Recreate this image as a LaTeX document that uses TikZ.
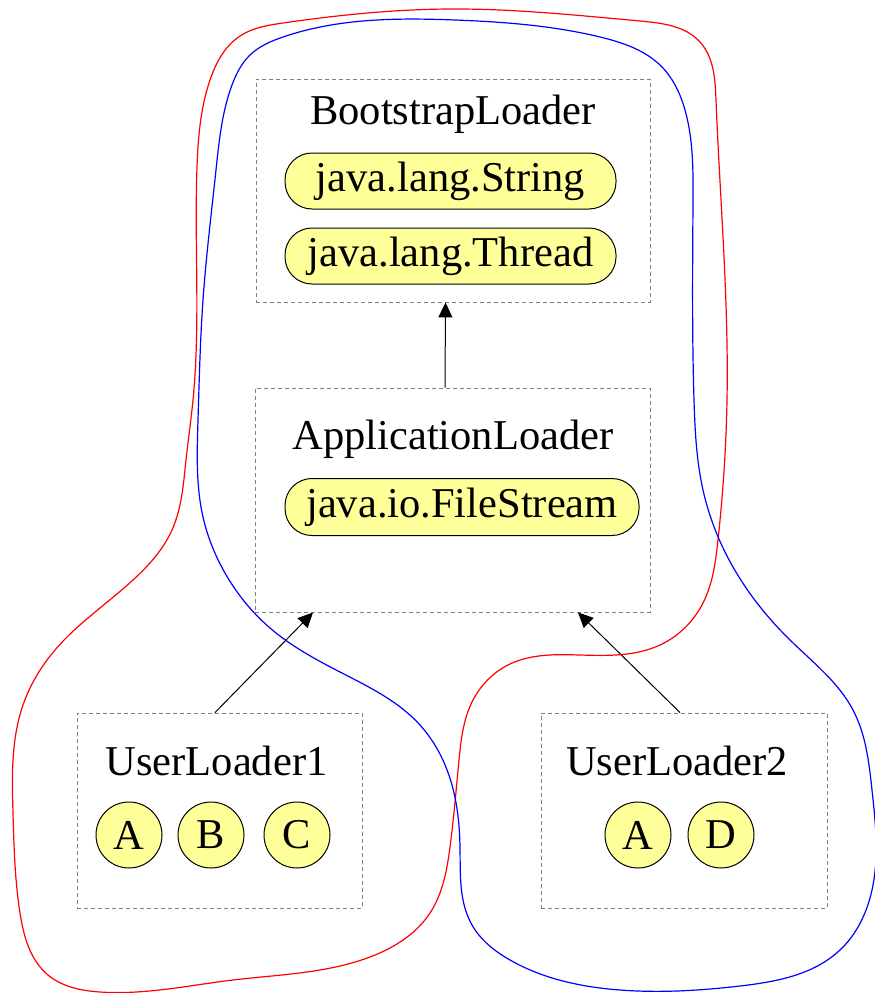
\documentclass[tikz,border=0pt]{standalone}
\usepackage{fontspec}
\setmainfont{Liberation Serif}
\usetikzlibrary{arrows.meta,hobby}
\definecolor{pillfill}{RGB}{255,255,153}
\definecolor{boxgray}{RGB}{128,128,128}
\begin{document}
\begin{tikzpicture}[x=1pt,y=-1pt,
  every node/.style={font=\fontsize{42.5}{50}\selectfont},
  dbox/.style={draw=boxgray, dash pattern=on 4pt off 3pt, line width=0.9pt, inner sep=0pt},
  pill/.style={draw=black, fill=pillfill, line width=1pt, rounded corners=27pt, inner sep=0pt, minimum height=56pt},
  ball/.style={circle, draw=black, fill=pillfill, line width=1pt, inner sep=0pt, minimum size=66pt},
  lbl/.style={anchor=base, inner sep=0pt},
  arr/.style={draw=black, line width=1pt, -{Triangle[length=15pt,width=14pt]}},
  hull/.style={line width=1.2pt, use Hobby shortcut, closed=true}
]
\useasboundingbox (0,0) rectangle (875,993);

% boxes
\node[dbox, minimum width=394pt, minimum height=223pt] (boot) at (453,190.5) {};
\node[lbl] (bootl) at (453,124) {BootstrapLoader};
\node[pill, minimum width=331pt] (str) at (450.5,181) {java.lang.String};
\node[pill, minimum width=331pt] (thr) at (450.5,256) {java.lang.Thread};

\node[dbox, minimum width=395pt, minimum height=224pt] (app) at (452.5,500) {};
\node[lbl] (appl) at (453,449) {ApplicationLoader};
\node[pill, minimum width=354pt, minimum height=57pt] (fs) at (462,507) {java.io.FileStream};

\node[dbox, minimum width=285pt, minimum height=195pt] (ul1) at (219.5,810.5) {};
\node[lbl] (ul1l) at (216.5,775) {UserLoader1};
\node[ball] (a1) at (129,835) {A};
\node[ball] (b1) at (211,835) {B};
\node[ball] (c1) at (297,835) {C};

\node[dbox, minimum width=286pt, minimum height=195pt] (ul2) at (684,810.5) {};
\node[lbl] (ul2l) at (677,775) {UserLoader2};
\node[ball] (a2) at (638,835) {A};
\node[ball] (d2) at (721,835) {D};

% arrows
\draw[arr] ([xshift=-7.5pt]app.north) -- ([xshift=-7.5pt]boot.south);
\draw[arr] ([xshift=-4.5pt]ul1.north) -- ([xshift=-139.5pt]app.south);
\draw[arr] ([xshift=-4pt]ul2.north) -- ([xshift=125.5pt]app.south);

% hulls
\draw[hull, red] (283,23) .. (450,9) .. (640,21) .. (700,42) .. (716,100)
 .. (727,400) .. (718,540) .. (703,603) .. (660,645) .. (580,655) .. (510,664)
 .. (472,702) .. (459,760) .. (450,847) .. (430,913) .. (370,957) .. (233,980)
 .. (100,992) .. (48,975) .. (20,913) .. (13,813) .. (22,708) .. (55,650)
 .. (133,580) .. (172,530) .. (186,460) .. (193,400) .. (197,167) .. (210,80) .. (240,36);
\draw[hull, blue] (283,37) .. (455,20) .. (600,37) .. (662,67) .. (685,110) .. (693,200)
 .. (694,400) .. (703,490) .. (725,552) .. (790,640) .. (853,710) .. (872,790)
 .. (872,890) .. (840,950) .. (740,986) .. (620,990) .. (510,960) .. (472,925)
 .. (460,847) .. (452,785) .. (420,725) .. (340,672) .. (270,628) .. (225,573)
 .. (203,517) .. (198,420) .. (203,300) .. (216,170) .. (232,85) .. (250,55);
\end{tikzpicture}
\end{document}
